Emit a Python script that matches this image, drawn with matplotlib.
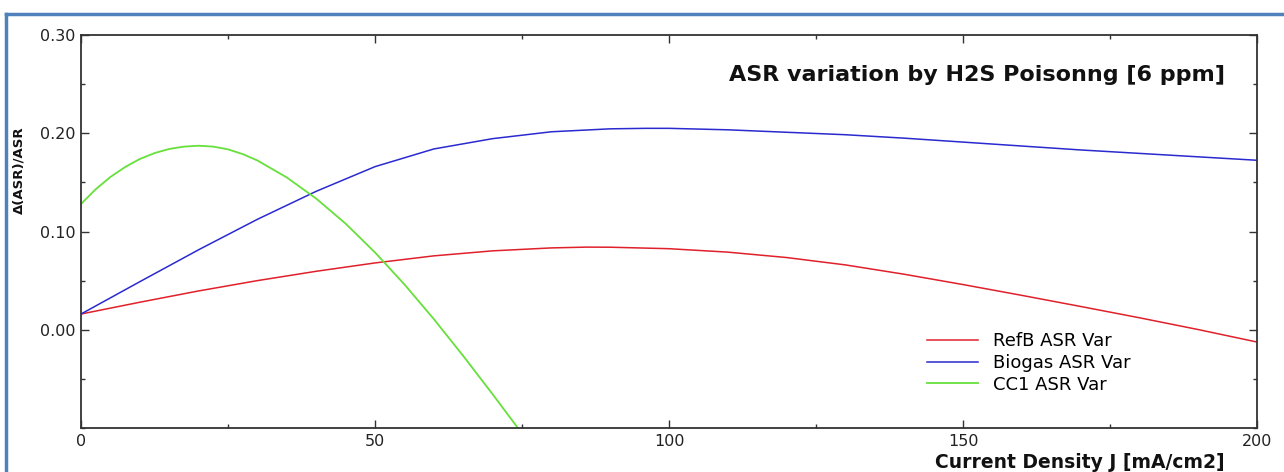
import matplotlib.pyplot as plt
from matplotlib.lines import Line2D
from matplotlib.ticker import MultipleLocator

# Werte
j_refb = [0, 10, 20, 30, 40, 50, 60, 70, 80, 86, 90, 100, 110, 120, 130, 140, 150, 160, 170, 180, 190, 200]
asr_refb = [0.016, 0.028, 0.0395, 0.050, 0.0595, 0.068, 0.0752, 0.0803, 0.0833, 0.0841, 0.0840, 0.0825,
            0.079, 0.0735, 0.066, 0.0565, 0.046, 0.035, 0.0237, 0.0122, 0.0002, -0.0125]

j_biogas = [0, 10, 20, 30, 40, 50, 60, 70, 80, 90, 96, 100, 110, 120, 130, 140, 150, 160, 170, 180, 190, 200]
asr_biogas = [0.016, 0.0489, 0.0814, 0.1124, 0.1409, 0.166, 0.184, 0.1945, 0.2015, 0.2045, 0.205, 0.205,
              0.2035, 0.201, 0.1985, 0.195, 0.191, 0.187, 0.183, 0.1795, 0.176, 0.1725]

j_cc1 = [0, 2.5, 5, 7.5, 10, 12.5, 15, 17.5, 20, 22.5, 25, 27.5, 30, 35, 40, 45, 50, 55, 60, 65, 70, 74.5]
asr_cc1 = [0.128, 0.143, 0.1555, 0.1656, 0.1738, 0.1798, 0.184, 0.1864, 0.1873, 0.1864, 0.1836, 0.1788,
           0.1723, 0.155, 0.1335, 0.108, 0.0787, 0.0462, 0.0109, -0.0266, -0.0656, -0.1016]

labels = ["RefB ASR Var", "Biogas ASR Var", "CC1 ASR Var"]
colors = ["#e0202a", "#2a2ad0", "#66e03a"]

plt.rcParams["font.family"] = ["DejaVu Sans"]

fig = plt.figure(figsize=(12.84, 4.72), dpi=100)
ax = fig.add_axes([81 / 1284, 1 - 428 / 472, 1176 / 1284, 393 / 472])

ax.plot(j_refb, asr_refb, color=colors[0], lw=1.1, label=labels[0])
ax.plot(j_biogas, asr_biogas, color=colors[1], lw=1.1, label=labels[1])
ax.plot(j_cc1, asr_cc1, color=colors[2], lw=1.3, label=labels[2])

ax.set_xlim(0, 200)
ax.set_ylim(-0.10, 0.30)
ax.set_xticks([0, 50, 100, 150, 200])
ax.xaxis.set_minor_locator(MultipleLocator(25))
ax.set_yticks([0.0, 0.1, 0.2, 0.3])
ax.set_yticklabels(["0.00", "0.10", "0.20", "0.30"])
ax.yaxis.set_minor_locator(MultipleLocator(0.05))
ax.tick_params(which="both", direction="in", top=True, right=True, width=1.0,
               color="#333333", labelsize=11.5, labelcolor="#222222")
ax.tick_params(which="major", length=6, pad=4)
ax.tick_params(which="minor", length=3)
for s in ax.spines.values():
    s.set_linewidth(1.3)
    s.set_color("#333333")

ax.text(0.973, 0.898, "ASR variation by H2S Poisonng [6 ppm]", transform=ax.transAxes,
        ha="right", va="center", fontsize=16, fontweight="bold", color="#111111")

ax.legend(loc="center left", bbox_to_anchor=(927 / 1284, 1 - 363 / 472),
          bbox_transform=fig.transFigure, frameon=False, fontsize=13,
          handlelength=2.8, handletextpad=0.85, labelspacing=0.2,
          borderpad=0, borderaxespad=0)

fig.text(1225 / 1284, 1 - 463 / 472, "Current Density J [mA/cm2]", ha="right", va="center",
         fontsize=13.5, fontweight="bold", color="#111111")
fig.text(19 / 1284, 1 - 170 / 472, "Δ(ASR)/ASR", rotation=90, ha="center", va="center",
         fontsize=9.5, fontweight="bold", color="#111111")

# blauer Rahmen (rechts und unten abgeschnitten)
fig.add_artist(Line2D([6 / 1284, 1.0], [1 - 14 / 472, 1 - 14 / 472], color="#4f81bd", lw=2.5))
fig.add_artist(Line2D([6 / 1284, 6 / 1284], [1 - 14 / 472, 0.0], color="#4f81bd", lw=2.5))

fig.savefig("out.png", dpi=100)
